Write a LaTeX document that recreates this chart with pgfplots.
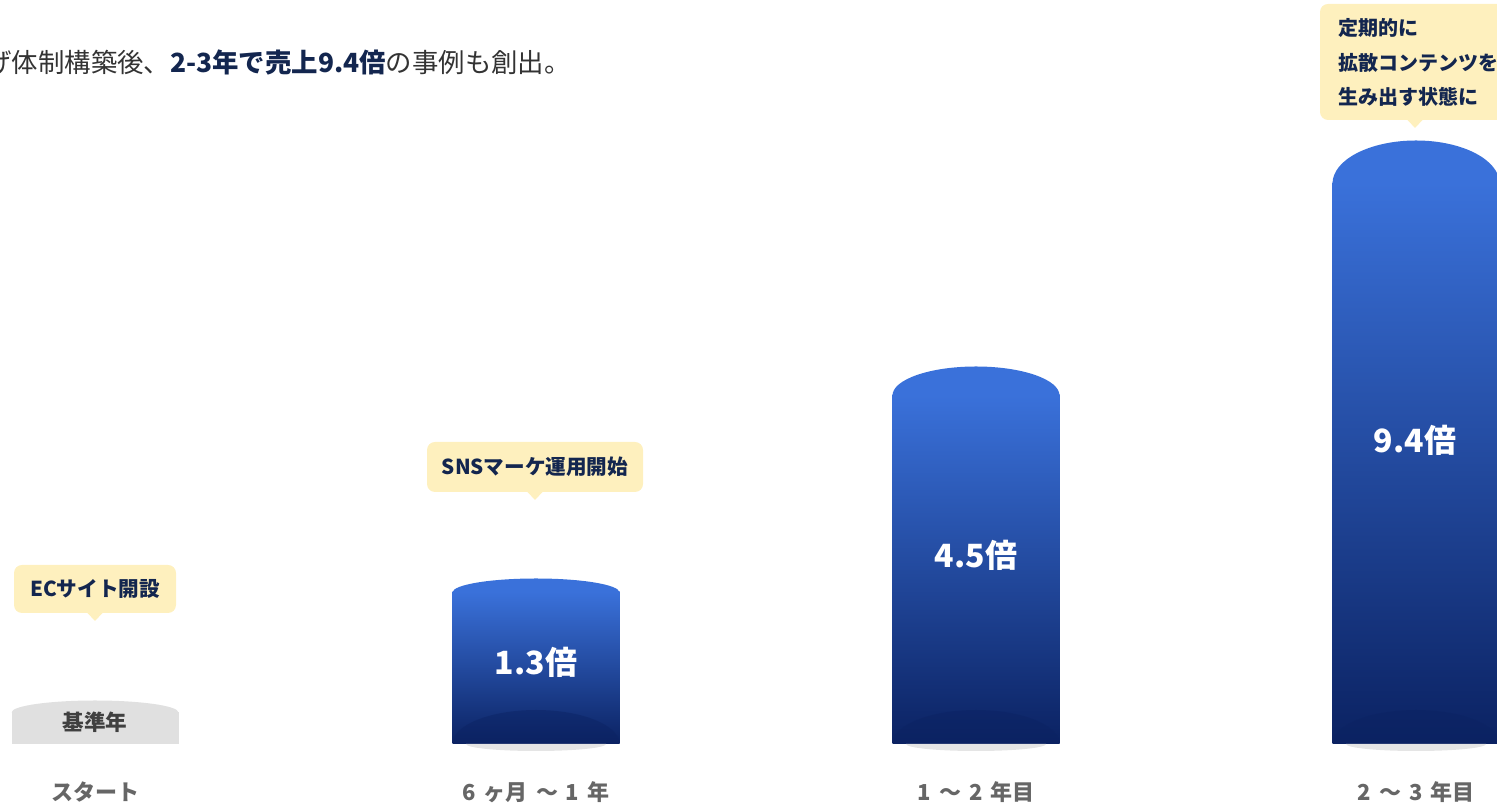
\documentclass[border=0pt]{standalone}
\usepackage{pgfplots}
\pgfplotsset{compat=1.18}
\usepackage{fontspec}
\setmainfont{Noto Sans CJK JP}
\definecolor{navy}{HTML}{13264F}
\definecolor{barTop}{HTML}{3A71DA}
\definecolor{barBot}{HTML}{0B2262}
\definecolor{callout}{HTML}{FEF0BE}
\definecolor{baseGrey}{HTML}{E0E0E0}
\definecolor{txtGrey}{HTML}{666666}
\newcommand{\fs}[1]{\fontsize{#1pt}{#1pt}\selectfont}

\begin{document}
\begin{tikzpicture}
\begin{axis}[
  scale only axis, width=748.5pt, height=372pt,
  xmin=0, xmax=1497, ymin=0, ymax=744,
  hide axis, clip=false,
  ybar, bar width=83.5pt, bar shift=0pt,
  blue bar/.style={top color=barTop, bottom color=barBot, draw=none},
]
% bar bodies (height of the straight part, px above baseline)
\addplot[fill=baseGrey, draw=none] coordinates {(95,32)};
\addplot[blue bar] coordinates {(536,152)};
\addplot[blue bar] coordinates {(976,349)};
\addplot[blue bar] coordinates {(1416,561)};

% rounded caps
\fill[baseGrey] (axis cs:11.5,31.5) arc[start angle=180, end angle=0, x radius=41.75pt, y radius=6pt];
\fill[barTop] (axis cs:452.5,151.5) arc[start angle=180, end angle=0, x radius=41.75pt, y radius=7pt];
\fill[barTop] (axis cs:892.5,348.5) arc[start angle=180, end angle=0, x radius=41.75pt, y radius=14.5pt];
\fill[barTop] (axis cs:1332.5,560.5) arc[start angle=180, end angle=0, x radius=41.75pt, y radius=21.5pt];

% bottom shading and shadow
\pgfplotsinvokeforeach{536,976,1416}{
  \fill[barBot, opacity=0.45] (axis cs:#1-83.5,0) arc[start angle=180, end angle=0, x radius=41.75pt, y radius=17pt];
  \fill[black!10] (axis cs:#1-70,0) arc[start angle=180, end angle=360, x radius=35pt, y radius=3.5pt];
}

% value labels
\node[white, font=\fs{16}\bfseries] at (axis cs:536,82) {1.3倍};
\node[white, font=\fs{16}\bfseries] at (axis cs:976,189) {4.5倍};
\node[white, font=\fs{16}\bfseries] at (axis cs:1415,304) {9.4倍};
\node[black!75, font=\fs{10.8}\bfseries] at (axis cs:95,22) {基準年};

% category labels
\node[txtGrey, font=\fs{11}\bfseries] at (axis cs:95,-48) {スタート};
\node[txtGrey, font=\fs{11}\bfseries] at (axis cs:536,-48) {6\hspace{4pt}ヶ月\hspace{4pt}〜\hspace{4pt}1\hspace{4pt}年};
\node[txtGrey, font=\fs{11}\bfseries] at (axis cs:976,-48) {1\hspace{4pt}〜\hspace{4pt}2\hspace{4pt}年目};
\node[txtGrey, font=\fs{11}\bfseries] at (axis cs:1416,-48) {2\hspace{4pt}〜\hspace{4pt}3\hspace{4pt}年目};

% callouts
\fill[callout, rounded corners=4pt] (axis cs:14,131) rectangle (axis cs:176,179);
\fill[callout] (axis cs:87,131.5) -- (axis cs:95,123) -- (axis cs:103,131.5) -- cycle;
\node[navy, font=\fs{10.3}\bfseries] at (axis cs:95,155) {ECサイト開設};

\fill[callout, rounded corners=4pt] (axis cs:427,252) rectangle (axis cs:643,302);
\fill[callout] (axis cs:527,252.5) -- (axis cs:535,244) -- (axis cs:543,252.5) -- cycle;
\node[navy, font=\fs{10.3}\bfseries] at (axis cs:535,277) {SNSマーケ運用開始};

\fill[callout, rounded corners=4pt] (axis cs:1320,624) rectangle (axis cs:1520,740);
\fill[callout] (axis cs:1407,624.5) -- (axis cs:1415,616) -- (axis cs:1423,624.5) -- cycle;
\node[navy, font=\fs{10}\bfseries, anchor=west, inner sep=0pt] at (axis cs:1338,716) {定期的に};
\node[navy, font=\fs{10}\bfseries, anchor=west, inner sep=0pt] at (axis cs:1338,681) {拡散コンテンツを};
\node[navy, font=\fs{10}\bfseries, anchor=west, inner sep=0pt] at (axis cs:1338,647) {生み出す状態に};

% heading
\node[anchor=west, inner sep=0pt, font=\fs{13.2}] at (axis cs:-15,682)
  {\color{black!80}げ体制構築後、\textbf{\color{navy}2-3年で売上9.4倍}の事例も創出。};

\coordinate (bl) at (axis cs:0,-62);
\coordinate (tr) at (axis cs:1497,744);
\end{axis}
\pgfresetboundingbox
\useasboundingbox (bl) rectangle (tr);
\end{tikzpicture}
\end{document}
